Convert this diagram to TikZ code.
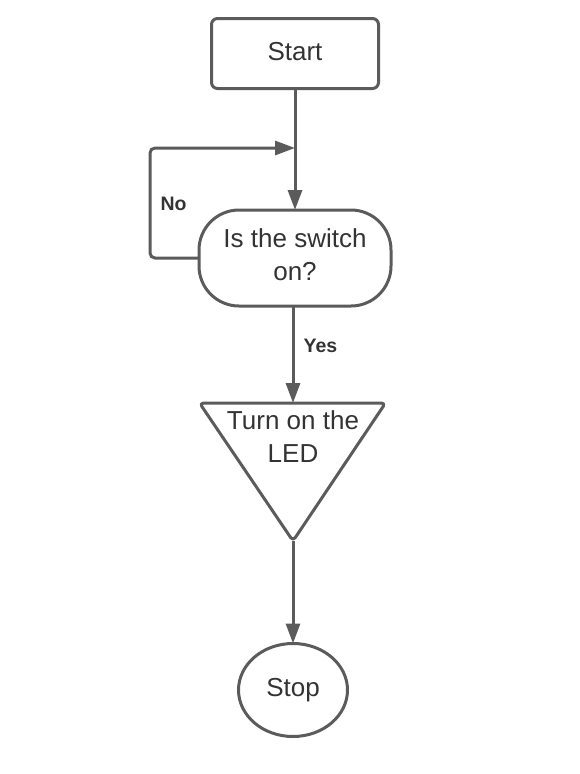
\documentclass[tikz,border=0pt]{standalone}
\usepackage{fontspec}
\setmainfont{Liberation Sans}
\usepackage{xcolor}
\usepackage{tikz}
\usetikzlibrary{arrows.meta,shapes.geometric}
\definecolor{edge}{HTML}{5B5B5B}
\definecolor{ink}{HTML}{333333}
\tikzset{
  outline/.style={draw=edge,line width=3pt},
  box/.style={outline,text=ink,align=center,font=\fontsize{26}{33}\selectfont,inner sep=0pt,outer sep=0pt},
  flow/.style={draw=edge,line width=3pt,-{Triangle[length=20pt,width=14pt]}},
  lbl/.style={text=ink,inner sep=0pt,font=\bfseries\fontsize{19.5}{24}\selectfont}
}
\begin{document}
\begin{tikzpicture}[x=1pt,y=-1pt]
    \useasboundingbox (0,0) rectangle (580,774);
    \node[box,rounded corners=6pt,minimum width=167pt,minimum height=70pt,text depth=4pt] (start) at (295,53.5) {Start};
    \node[box,rounded corners=40pt,minimum width=192pt,minimum height=96pt,text depth=7pt] (sw) at (295,258) {Is the switch\\on?};
    \coordinate (merge) at (295,148);
    \coordinate (loop) at (150,148);
    \coordinate (ledtop) at (293,403);
    \coordinate (ledtip) at (293,541);
    \draw[outline,rounded corners=4pt,line join=round] (199.5,403) -- (385.5,403) -- (ledtip) -- cycle;
    \node[box,draw=none] (led) at (293,436.5) {Turn on the\\LED};
    \node[box,ellipse,minimum width=109pt,minimum height=93pt] (stop) at (293,690) {Stop};
    \node[lbl] (no) at (173.5,203.5) {No};
    \node[lbl] (yes) at (320.5,345.5) {Yes};
    \draw[flow] (start) to (sw);
    \draw[flow,rounded corners=5pt] (sw.west) -| (loop) -- (merge);
    \draw[flow] (ledtop |- sw.south) to (ledtop);
    \draw[flow] (ledtip) to (stop);
\end{tikzpicture}
\end{document}
